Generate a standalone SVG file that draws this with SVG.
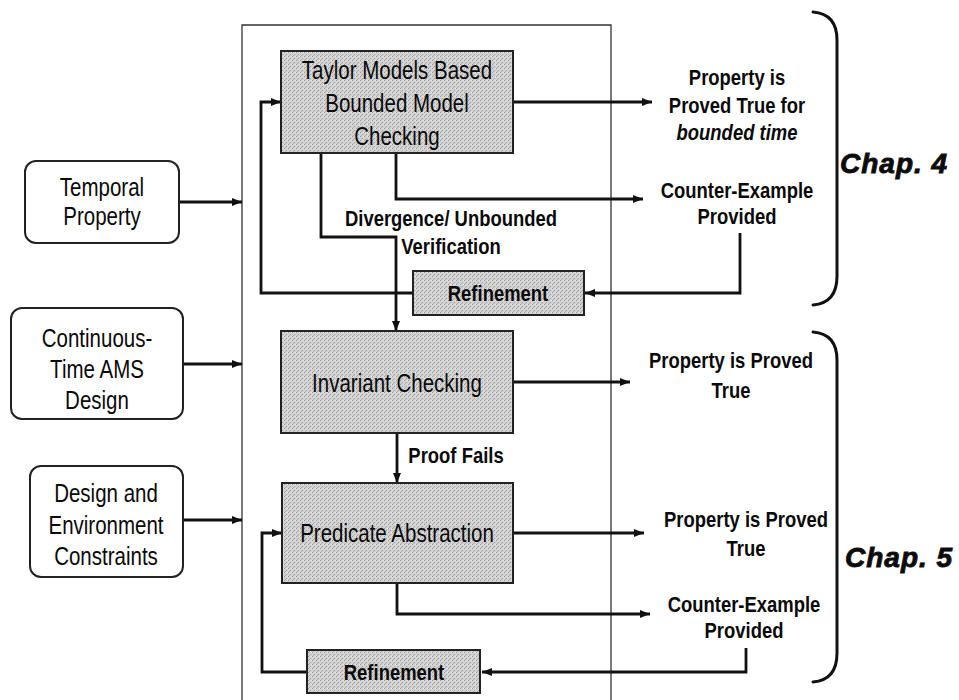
<svg xmlns="http://www.w3.org/2000/svg" width="959" height="700" viewBox="0 0 959 700">
  <defs>
    <!-- halftone-like grain for the shaded process boxes -->
    <pattern id="grain" width="4" height="4" patternUnits="userSpaceOnUse">
      <rect width="4" height="4" fill="#d2d2d2"/>
      <rect x="0" y="0" width="1" height="1" fill="#9c9c9c"/>
      <rect x="2" y="2" width="1" height="1" fill="#a4a4a4"/>
      <rect x="3" y="0" width="1" height="1" fill="#e6e6e6"/>
      <rect x="1" y="3" width="1" height="1" fill="#b0b0b0"/>
    </pattern>
    <marker id="arrow" viewBox="0 0 10 8" refX="10" refY="4" markerWidth="10" markerHeight="8" markerUnits="userSpaceOnUse" orient="auto">
      <path d="M0,0 L10,4 L0,8 z" fill="#111"/>
    </marker>
  </defs>
  <style>
    .frame { fill: none; stroke: #333; stroke-width: 1.3; }
    .proc { fill: url(#grain); stroke: #222; stroke-width: 2; }
    .input { fill: #fff; stroke: #222; stroke-width: 2; }
    .wire { fill: none; stroke: #111; stroke-width: 2.8; }
    .wire.to { marker-end: url(#arrow); }
    .brace { fill: none; stroke: #111; stroke-width: 3; stroke-linecap: round; }
    text { font-family: "Liberation Sans", Arial, Helvetica, sans-serif; fill: #0a0a0a; text-anchor: middle; }
    .box { font-size: 25px; }
    .lbl { font-size: 22.5px; font-weight: bold; }
    .ital { font-style: italic; font-weight: bold; }
    .chap { font-size: 28px; font-weight: bold; font-style: italic; text-anchor: start; stroke: #111; stroke-width: 0.9; letter-spacing: 1px; }
  </style>

  <!-- verification framework boundary (open at the bottom) -->
  <path class="frame" d="M242,702 V25 H611 V702"/>

  <!-- connectors -->
  <g id="connectors">
    <path class="wire to" d="M179,202 H242"/>
    <path class="wire to" d="M183,364 H242"/>
    <path class="wire to" d="M183,520 H242"/>
    <path class="wire to" d="M513,102 H652"/>
    <path class="wire to" d="M396,153 V199 H643"/>
    <path class="wire to" d="M321,153 V237 H396 V331"/>
    <path class="wire to" d="M740,233 V293 H585"/>
    <path class="wire to" d="M413,293 H261 V102 H281"/>
    <path class="wire to" d="M513,382 H630"/>
    <path class="wire to" d="M397,433 V483"/>
    <path class="wire to" d="M513,533 H644"/>
    <path class="wire to" d="M397,583 V614 H650"/>
    <path class="wire to" d="M746,648 V672 H482"/>
    <path class="wire to" d="M307,672 H262 V533 H282"/>
  </g>

  <!-- inputs -->
  <g id="temporal-property">
    <rect class="input" x="25" y="161" width="154" height="82" rx="11"/>
    <text class="box" transform="translate(102 196) scale(.82 1)"><tspan x="0">Temporal</tspan><tspan x="0" dy="29">Property</tspan></text>
  </g>
  <g id="ams-design">
    <rect class="input" x="11" y="308" width="172" height="111" rx="11"/>
    <text class="box" transform="translate(97 347) scale(.82 1)"><tspan x="0">Continuous-</tspan><tspan x="0" dy="31">Time AMS</tspan><tspan x="0" dy="31">Design</tspan></text>
  </g>
  <g id="constraints">
    <rect class="input" x="30" y="466" width="153" height="111" rx="11"/>
    <text class="box" transform="translate(106 502) scale(.82 1)"><tspan x="0">Design and</tspan><tspan x="0" dy="32">Environment</tspan><tspan x="0" dy="31">Constraints</tspan></text>
  </g>

  <!-- process steps -->
  <g id="taylor-bmc">
    <rect class="proc" x="281" y="51" width="232" height="102"/>
    <text class="box" transform="translate(397 79) scale(.82 1)"><tspan x="0">Taylor Models Based</tspan><tspan x="0" dy="33">Bounded Model</tspan><tspan x="0" dy="33">Checking</tspan></text>
  </g>
  <g id="refinement-bmc">
    <rect class="proc" x="413" y="271" width="171" height="44"/>
    <text class="lbl" transform="translate(498 301) scale(.82 1)">Refinement</text>
  </g>
  <g id="invariant-checking">
    <rect class="proc" x="281" y="331" width="232" height="102"/>
    <text class="box" transform="translate(397 392) scale(.82 1)">Invariant Checking</text>
  </g>
  <g id="predicate-abstraction">
    <rect class="proc" x="282" y="483" width="231" height="100"/>
    <text class="box" transform="translate(397 542) scale(.82 1)">Predicate Abstraction</text>
  </g>
  <g id="refinement-pa">
    <rect class="proc" x="307" y="650" width="173" height="43"/>
    <text class="lbl" transform="translate(394 680) scale(.82 1)">Refinement</text>
  </g>

  <!-- edge labels -->
  <g id="edge-labels">
    <text class="lbl" transform="translate(451 226) scale(.82 1)"><tspan x="0">Divergence/ Unbounded</tspan><tspan x="0" dy="28">Verification</tspan></text>
    <text class="lbl" transform="translate(456 463) scale(.82 1)">Proof Fails</text>
  </g>

  <!-- outcomes -->
  <g id="bounded-true">
    <text class="lbl" transform="translate(737 85) scale(.82 1)"><tspan x="0">Property is</tspan><tspan x="0" dy="28">Proved True for</tspan><tspan x="0" dy="27" class="ital">bounded time</tspan></text>
  </g>
  <g id="bmc-counterexample">
    <text class="lbl" transform="translate(737 198) scale(.82 1)"><tspan x="0">Counter-Example</tspan><tspan x="0" dy="26">Provided</tspan></text>
  </g>
  <g id="invariant-true">
    <text class="lbl" transform="translate(731 368) scale(.82 1)"><tspan x="0">Property is Proved</tspan><tspan x="0" dy="30">True</tspan></text>
  </g>
  <g id="pa-true">
    <text class="lbl" transform="translate(746 527) scale(.82 1)"><tspan x="0">Property is Proved</tspan><tspan x="0" dy="29">True</tspan></text>
  </g>
  <g id="pa-counterexample">
    <text class="lbl" transform="translate(744 612) scale(.82 1)"><tspan x="0">Counter-Example</tspan><tspan x="0" dy="26">Provided</tspan></text>
  </g>

  <!-- chapter braces -->
  <g id="chapter-4">
    <path class="brace" d="M813,12 Q837,14 837,40 V276 Q837,303 813,305"/>
    <text class="chap" x="840" y="173">Chap. 4</text>
  </g>
  <g id="chapter-5">
    <path class="brace" d="M813,332 Q837,334 837,360 V653 Q837,680 813,682"/>
    <text class="chap" x="845" y="567">Chap. 5</text>
  </g>
</svg>
